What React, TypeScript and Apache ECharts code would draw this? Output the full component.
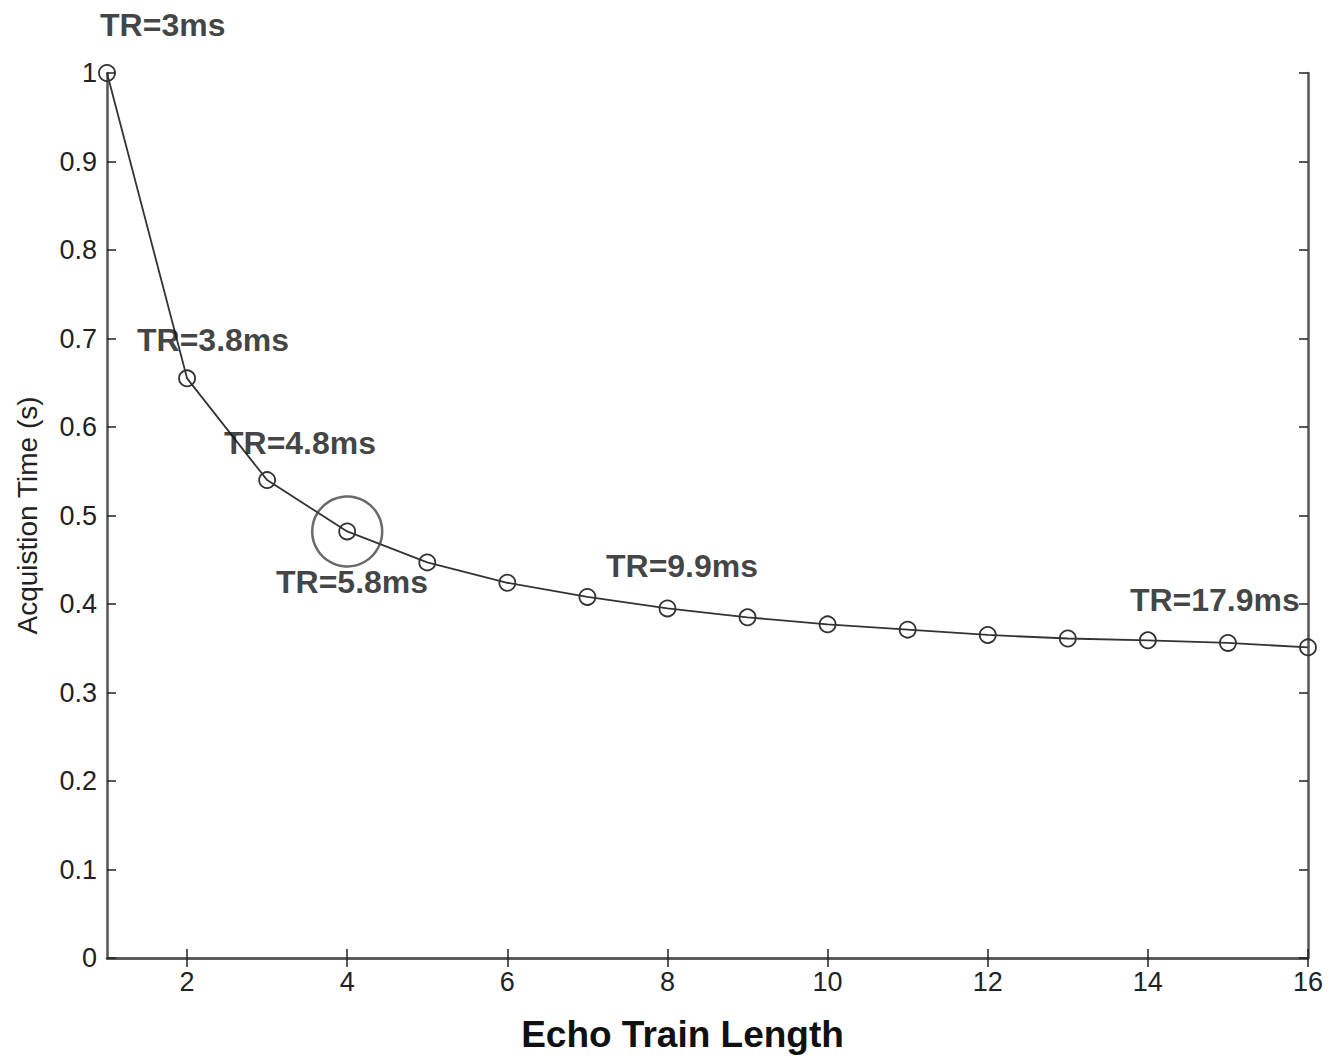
import React, { useEffect, useRef } from "react";
import * as echarts from "echarts";

const echoTrainLength = [1, 2, 3, 4, 5, 6, 7, 8, 9, 10, 11, 12, 13, 14, 15, 16];
const acquisitionTime = [1.0, 0.655, 0.54, 0.482, 0.447, 0.424, 0.408, 0.395, 0.385, 0.377, 0.371, 0.365, 0.361, 0.359, 0.356, 0.351];

const xTickValues = [2, 4, 6, 8, 10, 12, 14, 16];
const yTickLabels = ["0", "0.1", "0.2", "0.3", "0.4", "0.5", "0.6", "0.7", "0.8", "0.9", "1"];

const highlightX = 4;
const highlightY = 0.482;

const annotationText = ["TR=3ms", "TR=3.8ms", "TR=4.8ms", "TR=5.8ms", "TR=9.9ms", "TR=17.9ms"];
const annotationX = [0.913, 1.375, 2.461, 3.111, 7.232, 13.776];
const annotationY = [1.054, 0.698, 0.582, 0.425, 0.443, 0.4045];

const FONT = "'Liberation Sans', Arial, sans-serif";
const AXIS_COLOR = "#555";
const LINE_COLOR = "#333";

export default function App() {
  const ref = useRef<HTMLDivElement>(null);
  useEffect(() => {
    if (!ref.current) return;
    const chart = echarts.init(ref.current, null, { renderer: "svg" });
    const axisLine = { show: true, lineStyle: { color: AXIS_COLOR, width: 2.5 } };
    const option: any = {
      animation: false,
      backgroundColor: "#ffffff",
      grid: { left: 107, right: 29, top: 73, bottom: 104, containLabel: false },
      xAxis: [
        {
          type: "value",
          min: 1,
          max: 16,
          position: "bottom",
          axisLine,
          splitLine: { show: false },
          axisTick: { show: true, inside: true, length: 9, customValues: xTickValues, lineStyle: { color: "#222", width: 1.5 } },
          axisLabel: { customValues: xTickValues, fontFamily: FONT, fontSize: 27, color: "#222", margin: 10 },
          name: "Echo Train Length",
          nameLocation: "middle",
          nameGap: 58,
          nameTextStyle: { fontFamily: FONT, fontSize: 37, fontWeight: "bold", color: "#111", padding: [0, 50, 0, 0] },
        },
        {
          type: "value",
          min: 1,
          max: 16,
          position: "top",
          axisLine,
          splitLine: { show: false },
          axisTick: { show: true, inside: true, length: 9, customValues: xTickValues, lineStyle: { color: "#222", width: 1.5 } },
          axisLabel: { show: false },
        },
      ],
      yAxis: [
        {
          type: "value",
          min: 0,
          max: 1,
          interval: 0.1,
          position: "left",
          axisLine,
          splitLine: { show: false },
          axisTick: { show: true, inside: true, length: 9, lineStyle: { color: "#222", width: 1.5 } },
          axisLabel: {
            fontFamily: FONT,
            fontSize: 27,
            color: "#222",
            margin: 10,
            formatter: (v: number) => yTickLabels[Math.round(v * 10)] ?? "",
          },
          name: "Acquistion Time (s)",
          nameLocation: "middle",
          nameRotate: 90,
          nameGap: 66,
          nameTextStyle: { fontFamily: FONT, fontSize: 28, color: "#222" },
        },
        {
          type: "value",
          min: 0,
          max: 1,
          interval: 0.1,
          position: "right",
          axisLine,
          splitLine: { show: false },
          axisTick: { show: true, inside: true, length: 9, lineStyle: { color: "#222", width: 1.5 } },
          axisLabel: { show: false },
        },
      ],
      series: [
        {
          type: "line",
          data: echoTrainLength.map((x, i) => [x, acquisitionTime[i]]),
          symbol: "circle",
          symbolSize: 16,
          clip: false,
          lineStyle: { color: LINE_COLOR, width: 1.8 },
          itemStyle: { color: "rgba(255,255,255,0)", borderColor: LINE_COLOR, borderWidth: 1.8 },
          z: 3,
        },
        {
          type: "scatter",
          data: [[highlightX, highlightY]],
          symbol: "circle",
          symbolSize: 70,
          clip: false,
          itemStyle: { color: "rgba(255,255,255,0)", borderColor: "#444", borderWidth: 2.5 },
          z: 4,
        },
        {
          type: "scatter",
          data: annotationText.map((t, i) => ({ name: t, value: [annotationX[i], annotationY[i]] })),
          symbolSize: 0,
          clip: false,
          label: {
            show: true,
            position: "right",
            distance: 0,
            formatter: (p: any) => p.name,
            fontFamily: FONT,
            fontSize: 32,
            fontWeight: "bold",
            color: "#111",
          },
          z: 5,
        },
      ],
    };
    chart.setOption(option);
    return () => chart.dispose();
  }, []);
  return (
    <div
      ref={ref}
      style={{ position: "fixed", left: 0, top: 0, width: 1337, height: 1062, background: "#fff" }}
    />
  );
}
